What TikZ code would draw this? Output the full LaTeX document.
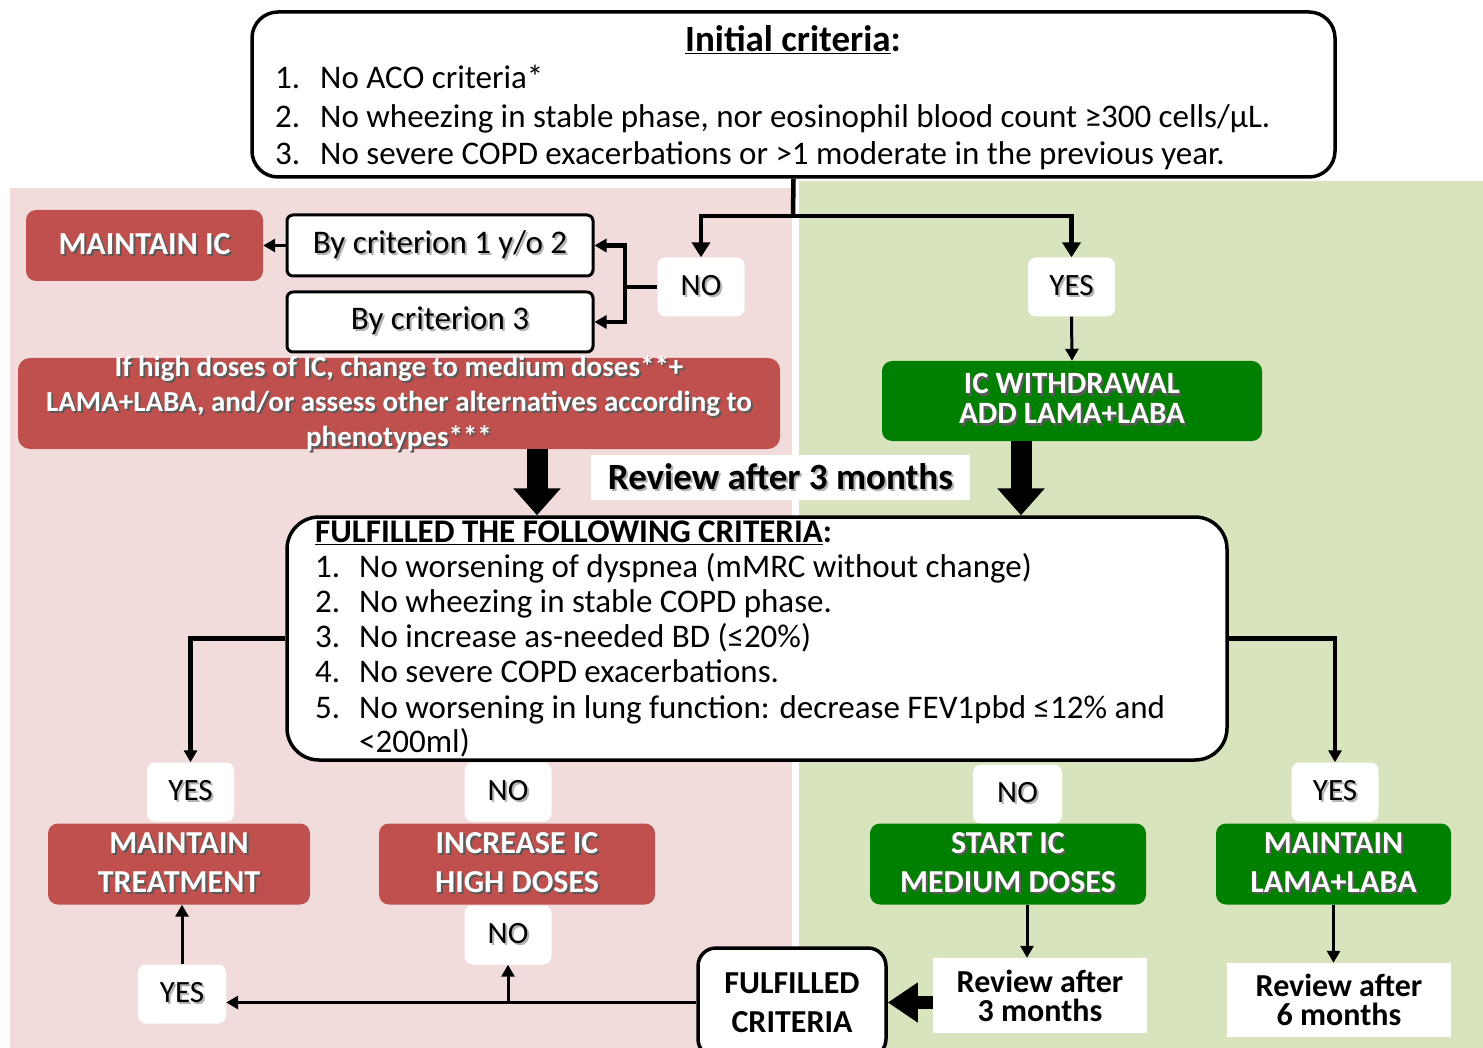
\documentclass[tikz,border=0pt]{standalone}
\usepackage{fontspec}
\setmainfont{Carlito}
\usetikzlibrary{arrows.meta}
\definecolor{pinkbg}{HTML}{F2DCDB}
\definecolor{greenbg}{HTML}{D7E4BD}
\definecolor{redbox}{HTML}{C0504D}
\definecolor{greenbox}{HTML}{008000}
\newcommand\shw[1]{\leavevmode\rlap{\hspace{2pt}\raisebox{-2pt}{\textcolor{black!65}{#1}}}#1}
\newcommand\shb[1]{\leavevmode\rlap{\hspace{2pt}\raisebox{-2pt}{\textcolor{black!30}{#1}}}#1}
\begin{document}
\begin{tikzpicture}[x=1pt,y=-1pt,
  every node/.style={inner sep=0pt},
  lbl/.style={fill=white, rounded corners=8pt, minimum width=87pt, minimum height=59pt, font=\fontsize{31}{36}\selectfont},
  redb/.style={fill=redbox, rounded corners=10pt, text=white, align=center, font=\bfseries\fontsize{32}{39}\selectfont},
  grnb/.style={fill=greenbox, rounded corners=10pt, text=white, align=center, font=\bfseries\fontsize{32}{39}\selectfont},
  wbox/.style={draw, line width=3.5pt, fill=white},
  itemf/.style={anchor=base west, font=\fontsize{33}{38}\selectfont},
  conn/.style={line width=4.5pt},
  thin/.style={line width=3pt},
  tipa/.style={-{Triangle[width=18pt,length=15pt]}},
  tipb/.style={-{Triangle[width=13pt,length=12pt]}},
  bigarr/.style={line width=21pt, -{Triangle[width=46pt,length=27pt]}},
  revf/.style={fill=white, align=center, font=\bfseries\fontsize{32}{29}\selectfont}
]
\useasboundingbox (0,0) rectangle (1483,1048);
% panels
\fill[pinkbg] (10,188) rectangle (792,1048);
\fill[greenbg] (799,181) rectangle (1483,1048);

% top box
\node[wbox, rounded corners=26pt, minimum width=1083pt, minimum height=165pt] (top) at (793.5,94.5) {};
\node[anchor=base, font=\bfseries\fontsize{37}{40}\selectfont] (t0) at (793,52) {\underline{Initial criteria}:};
\node[itemf] (tn1) at (275,88.6) {1.};
\node[itemf] (ti1) at (320,88.6) {No ACO criteria*};
\node[itemf] (tn2) at (275,127.6) {2.};
\node[itemf] (ti2) at (320,127.6) {No wheezing in stable phase, nor eosinophil blood count ≥300 cells/μL.};
\node[itemf] (tn3) at (275,164.6) {3.};
\node[itemf] (ti3) at (320,164.6) {No severe COPD exacerbations or >1 moderate in the previous year.};

% first decision
\node[lbl] (no1) at (701,287) {\shb{NO}};
\node[lbl] (yes1) at (1071.5,287) {\shb{YES}};
\coordinate (j1) at (793,216);
\draw[conn] (top.south) -- (j1);
\draw[conn,tipa] (j1) -| (no1.north);
\draw[conn,tipa] (j1) -| (yes1.north);

\node[draw, line width=3pt, fill=white, rounded corners=6pt, minimum width=306pt, minimum height=61pt, font=\fontsize{33}{38}\selectfont] (crit1) at (440,245.5) {\shb{By criterion 1 y/o 2}};
\node[draw, line width=3pt, fill=white, rounded corners=6pt, minimum width=306pt, minimum height=60pt, font=\fontsize{33}{38}\selectfont] (crit3) at (440,322) {\shb{By criterion 3}};
\coordinate (j2) at (625,287);
\draw[conn] (no1.west) -- (j2);
\draw[conn,tipb] (j2) |- (crit1.east);
\draw[conn,tipb] (j2) |- (crit3.east);

\node[redb, minimum width=237pt, minimum height=71pt] (mic) at (144.5,245.5) {\shw{MAINTAIN IC}};
\draw[thin,tipb] (crit1.west) -- (mic.east);

\node[fill=redbox, rounded corners=12pt, minimum width=762pt, minimum height=91pt] (rbig) at (399,403.5) {};
\node[text=white, align=center, font=\bfseries\fontsize{29}{35}\selectfont] (rtxt) at (399,404) {\shw{If high doses of IC, change to medium doses**+}\\ \shw{LAMA+LABA, and/or assess other alternatives according to}\\ \shw{phenotypes***}};

\node[fill=greenbox, rounded corners=10pt, minimum width=380pt, minimum height=80pt] (icw) at (1072,401) {};
\node[anchor=base, text=white, font=\bfseries\fontsize{31}{31}\selectfont] (icw1) at (1072,394) {\shw{IC WITHDRAWAL}};
\node[anchor=base, text=white, font=\bfseries\fontsize{31}{31}\selectfont] (icw2) at (1072,424) {\shw{ADD LAMA+LABA}};
\draw[thin,tipb] (yes1.south) -- (icw.north);

\node[fill=white, minimum width=379pt, minimum height=45pt, font=\bfseries\fontsize{37}{40}\selectfont] (rev1) at (780.5,477.5) {\shb{Review after 3 months}};

% middle box
\node[wbox, rounded corners=32pt, minimum width=940pt, minimum height=243pt] (mid) at (757,638.5) {};
\coordinate (xa) at (537,480);
\coordinate (xb) at (1021,480);
\draw[bigarr] (rbig.south -| xa) -- (mid.north -| xa);
\draw[bigarr] (icw.south -| xb) -- (mid.north -| xb);
\node[anchor=base west, font=\bfseries\fontsize{33}{38}\selectfont] (m0) at (315,542.6) {\underline{FULFILLED THE FOLLOWING CRITERIA}:};
\node[itemf] (mn1) at (315,577.6) {1.};
\node[itemf] (mi1) at (359,577.6) {No worsening of dyspnea (mMRC without change)};
\node[itemf] (mn2) at (315,612.6) {2.};
\node[itemf] (mi2) at (359,612.6) {No wheezing in stable COPD phase.};
\node[itemf] (mn3) at (315,647.6) {3.};
\node[itemf] (mi3) at (359,647.6) {No increase as-needed BD (≤20\%)};
\node[itemf] (mn4) at (315,682.6) {4.};
\node[itemf] (mi4) at (359,682.6) {No severe COPD exacerbations.};
\node[itemf] (mn5) at (315,718.6) {5.};
\node[itemf] (mi5) at (359,718.6) {No worsening in lung function: decrease FEV1pbd ≤12\% and};
\node[itemf] (mi6) at (359,752.6) {<200ml)};

% second decision
\node[lbl] (yes2) at (190.5,792) {\shb{YES}};
\node[lbl] (no2) at (508,792) {\shb{NO}};
\node[lbl, minimum width=89pt] (no3) at (1017.5,794) {\shb{NO}};
\node[lbl] (yes3) at (1335,792) {\shb{YES}};
\draw[conn,tipb] (mid.west) -| (yes2.north);
\draw[conn,tipb] (mid.east) -| (yes3.north);

\node[redb, minimum width=262pt, minimum height=81pt] (mt) at (179,864) {\shw{MAINTAIN}\\ \shw{TREATMENT}};
\node[redb, minimum width=276pt, minimum height=81pt] (inc) at (517,864) {\shw{INCREASE IC}\\ \shw{HIGH DOSES}};
\node[grnb, minimum width=276pt, minimum height=81pt] (sic) at (1008,864) {\shw{START IC}\\ \shw{MEDIUM DOSES}};
\node[grnb, minimum width=235pt, minimum height=81pt] (mll) at (1333.5,864) {\shw{MAINTAIN}\\ \shw{LAMA+LABA}};

% bottom
\node[lbl] (no4) at (508,935) {\shb{NO}};
\node[lbl, minimum width=88pt] (yes4) at (182,994) {\shb{YES}};
\node[wbox, rounded corners=18pt, minimum width=188pt, minimum height=109pt, align=center, font=\bfseries\fontsize{32}{39}\selectfont] (fc) at (792,1002.5) {FULFILLED\\ CRITERIA};
\draw[thin,tipb] (fc.west) -- (fc.west -| yes4.east);
\draw[thin,tipb] (no4.south |- fc.west) -- (no4.south);
\draw[thin,tipb] (yes4.north) -- (yes4.north |- mt.south);

\node[revf, minimum width=214pt, minimum height=75pt] (rv3) at (1040,995.5) {Review after\\ 3 months};
\node[revf, minimum width=224pt, minimum height=74pt] (rv6) at (1339,1000) {Review after\\ 6 months};
\coordinate (xs) at (1027,930);
\draw[thin,tipb] (sic.south -| xs) -- (rv3.north -| xs);
\draw[thin,tipb] (mll.south) -- (mll.south |- rv6.north);
\draw[line width=13pt, -{Triangle[width=38pt,length=30pt]}] (rv3.west |- fc.east) -- (fc.east);
\end{tikzpicture}
\end{document}
